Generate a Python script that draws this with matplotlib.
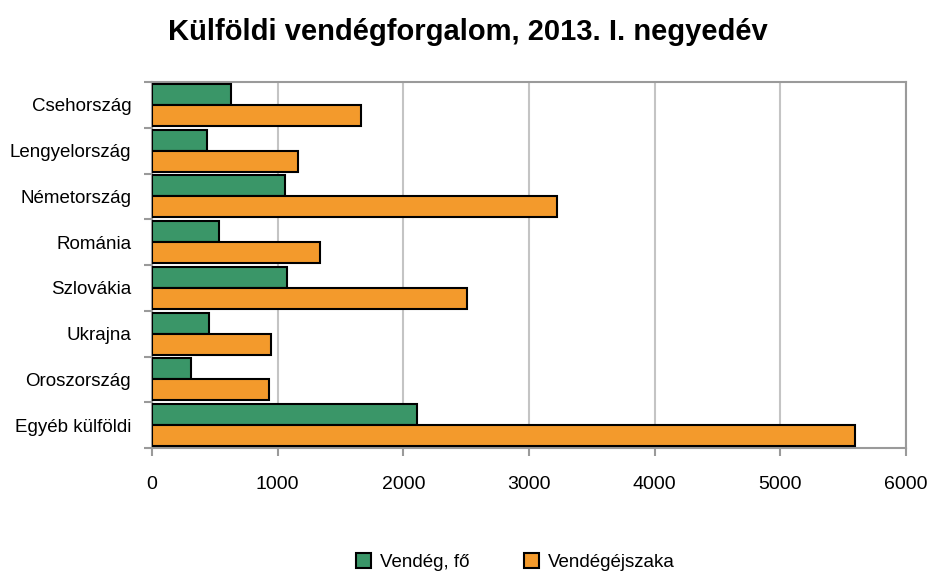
import matplotlib
matplotlib.use("Agg")
import matplotlib.pyplot as plt
import numpy as np

plt.rcParams['font.family'] = ['Liberation Sans', 'DejaVu Sans']

categories = ["Csehország", "Lengyelország", "Németország", "Románia",
              "Szlovákia", "Ukrajna", "Oroszország", "Egyéb külföldi"]
vendeg = [631, 440, 1060, 536, 1076, 456, 313, 2110]
vendegejszaka = [1664, 1158, 3225, 1333, 2507, 949, 933, 5594]
series_names = ["Vendég, fő", "Vendégéjszaka"]
xticks = [0, 1000, 2000, 3000, 4000, 5000, 6000]

green = "#3A9668"
orange = "#F39A2C"
gray_axis = "#9a9a9a"
gray_grid = "#c4c4c4"

fig = plt.figure(figsize=(9.27, 5.72), dpi=100)
ax = fig.add_axes([152/927, 1-448/572, (906-152)/927, (448-82)/572])

y = np.arange(len(categories))
h = 0.46
ax.barh(y - h/2, vendeg, height=h, color=green, edgecolor="black", linewidth=1.5,
        label=series_names[0], zorder=3)
ax.barh(y + h/2, vendegejszaka, height=h, color=orange, edgecolor="black", linewidth=1.5,
        label=series_names[1], zorder=3)

ax.set_xlim(0, 6000)
ax.set_ylim(len(categories) - 0.5, -0.5)
ax.set_xticks(xticks)
ax.set_xticklabels([str(t) for t in xticks], fontsize=14)
ax.set_yticks(y)
ax.set_yticklabels(categories, fontsize=13.5)
ax.set_yticks(np.arange(len(categories) + 1) - 0.5, minor=True)

ax.tick_params(axis='y', which='major', length=0, pad=15)
ax.tick_params(axis='y', which='minor', length=6, width=1.5, color=gray_axis, direction='out')
ax.tick_params(axis='x', which='major', length=6, width=1.5, color=gray_axis, direction='out', pad=14)

ax.grid(axis='x', color=gray_grid, linewidth=1.5, zorder=0)
ax.set_axisbelow(True)
for s in ax.spines.values():
    s.set_color(gray_axis)
    s.set_linewidth(1.5)

fig.suptitle("Külföldi vendégforgalom, 2013. I. negyedév", fontsize=21,
             fontweight='bold', x=0.505, y=1-32/572, va='center')

fig.legend(loc='center', bbox_to_anchor=(0.556, 1-562/572), ncol=2, frameon=False,
           fontsize=13.5, handlelength=0.8, handleheight=0.8, handletextpad=0.5,
           columnspacing=2.9)

fig.savefig("out.png", dpi=100)
